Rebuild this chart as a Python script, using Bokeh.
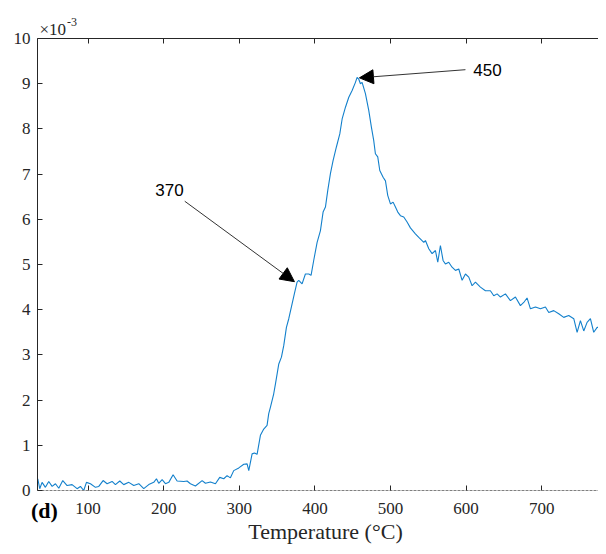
from bokeh.plotting import figure
from bokeh.models import Range1d, LinearAxis, FixedTicker, Label, Arrow, NormalHead
from bokeh.embed import file_html
from bokeh.resources import INLINE

# Temperature (°C)
temperature = [
    33.4, 36.0, 39.1, 43.5, 47.9, 52.4, 56.8, 61.2, 66.5, 72.2, 78.8, 85.4, 89.8, 94.2, 97.8,
    103.1, 109.7, 114.1, 119.8, 125.1, 131.7, 136.1, 141.9, 147.1, 153.8, 160.4, 167.0, 173.6,
    180.2, 186.8, 190.4, 193.4, 197.9, 202.3, 206.7, 212.4, 217.7, 226.5, 230.9, 235.3, 241.9,
    250.8, 255.2, 261.8, 268.4, 274.1, 279.4, 283.8, 288.2, 292.6, 299.3, 305.9, 310.3, 312.5,
    316.9, 320.0, 323.5, 327.9, 332.3, 336.7, 338.9, 341.1, 345.5, 347.8, 352.2, 355.7, 358.8,
    362.3, 365.4, 369.8, 373.3, 376.4, 378.6, 383.0, 387.4, 391.9, 394.9, 398.5, 402.9, 407.3,
    410.8, 413.9, 417.0, 420.5, 424.0, 428.4, 432.9, 436.0, 440.4, 444.8, 449.2, 453.6, 455.8,
    458.0, 460.2, 462.4, 466.8, 471.2, 474.7, 477.8, 480.0, 483.1, 485.8, 490.2, 493.3, 496.3,
    499.9, 503.4, 506.5, 509.6, 513.1, 517.5, 521.9, 526.3, 532.9, 537.4, 544.0, 546.2, 550.6,
    555.0, 559.4, 562.5, 566.0, 569.5, 572.6, 577.0, 581.4, 585.9, 590.3, 594.7, 599.1, 603.5,
    607.9, 612.3, 618.9, 625.5, 632.1, 636.6, 641.0, 645.4, 652.0, 658.6, 665.2, 671.8, 676.2,
    680.6, 685.1, 691.7, 698.3, 704.9, 709.3, 715.9, 722.5, 729.1, 735.7, 742.4, 746.8, 751.2,
    755.6, 760.0, 764.4, 768.8, 773.3, 777.7, 782.1, 785.6,
]
# Signal (x 10^-3)
signal = [
    0.26, 0.04, 0.18, 0.07, 0.20, 0.09, 0.15, 0.05, 0.22, 0.11, 0.13, 0.04, 0.09, 0.00, 0.18,
    0.15, 0.07, 0.09, 0.22, 0.15, 0.20, 0.13, 0.21, 0.13, 0.18, 0.11, 0.15, 0.04,
    0.13, 0.18, 0.26, 0.16, 0.24, 0.15, 0.18, 0.35, 0.21, 0.20, 0.21, 0.15, 0.10,
    0.22, 0.16, 0.19, 0.15, 0.29, 0.26, 0.33, 0.28, 0.44, 0.50, 0.58, 0.59, 0.44,
    0.81, 0.83, 0.80, 1.22, 1.36, 1.44, 1.70, 1.84, 2.14, 2.36, 2.80, 2.95, 3.21,
    3.61, 3.80, 4.13, 4.39, 4.61, 4.65, 4.57, 4.79, 4.79, 4.76, 5.10, 5.49, 5.75,
    6.16, 6.27, 6.64, 7.01, 7.30, 7.60, 7.89, 8.22, 8.48, 8.70, 8.85, 9.03, 9.14,
    9.10, 9.00, 9.03, 8.78, 8.41, 8.04, 7.74, 7.45, 7.38, 7.08, 6.93, 6.85, 6.53,
    6.34, 6.38, 6.27, 6.16, 6.08, 6.05, 5.94, 5.81, 5.68, 5.60, 5.49, 5.53, 5.35,
    5.24, 5.31, 5.05, 5.42, 5.09, 5.01, 5.05, 4.94, 4.87, 4.90, 4.65, 4.79, 4.72,
    4.53, 4.61, 4.50, 4.42, 4.42, 4.31, 4.35, 4.28, 4.35, 4.20, 4.28, 4.09, 4.16,
    4.26, 4.02, 4.06, 4.02, 4.06, 3.94, 3.98, 3.91, 3.83, 3.87, 3.80, 3.50, 3.76,
    3.53, 3.72, 3.80, 3.50, 3.61, 3.61, 3.46, 3.53,
]
x_ticks = [100, 200, 300, 400, 500, 600, 700]
y_ticks = [0, 1, 2, 3, 4, 5, 6, 7, 8, 9, 10]
x_min, x_max = 33.0, 775.1
y_min, y_max = 0.0, 10.0

# annotations
ann_labels = ["370", "450"]
ann_text_x = [207.7, 628.2]
ann_text_y = [6.64, 9.30]
ann_start_x = [227.8, 599.1]
ann_start_y = [6.40, 9.31]
ann_tip_x = [372.9, 458.9]
ann_tip_y = [4.62, 9.13]

SERIF = "Liberation Serif"
AX = "#262626"

# frame covers whole canvas; axes are placed at fixed data locations
p = figure(width=598, height=546, output_backend="svg", toolbar_location=None,
           x_range=Range1d(-15.9, 775.1), y_range=Range1d(-1.239, 10.841),
           min_border=0, x_axis_location=None, y_axis_location=None)
p.title.visible = False
p.outline_line_color = None
p.xgrid.visible = False
p.ygrid.visible = False
p.background_fill_color = "white"
p.border_fill_color = "white"

xb = LinearAxis(ticker=FixedTicker(ticks=x_ticks), fixed_location=y_min, bounds=(x_min, x_max))
xb.axis_line_color = "#808080"
xb.axis_line_dash = "3 1"
xb.major_tick_in = 5
xb.major_tick_out = 0
xb.minor_tick_line_color = None
xb.major_tick_line_color = AX
xb.major_label_text_font = SERIF
xb.major_label_text_font_size = "17px"
xb.major_label_text_color = AX
xb.major_label_standoff = 13
p.add_layout(xb, "below")

xt = LinearAxis(ticker=FixedTicker(ticks=x_ticks), fixed_location=y_max, bounds=(x_min, x_max))
xt.axis_line_color = AX
xt.major_tick_in = 5
xt.major_tick_out = 0
xt.minor_tick_line_color = None
xt.major_tick_line_color = AX
xt.major_label_text_color = None
p.add_layout(xt, "above")

yl = LinearAxis(ticker=FixedTicker(ticks=y_ticks), fixed_location=x_min, bounds=(y_min, y_max))
yl.axis_line_color = AX
yl.major_tick_in = 5
yl.major_tick_out = 0
yl.minor_tick_line_color = None
yl.major_tick_line_color = AX
yl.major_label_text_font = SERIF
yl.major_label_text_font_size = "17px"
yl.major_label_text_color = AX
yl.major_label_standoff = 7
p.add_layout(yl, "left")

p.line(temperature, signal, line_color="#1380CC", line_width=1.1)

for i in range(len(ann_labels)):
    p.add_layout(Arrow(x_start=ann_start_x[i], y_start=ann_start_y[i],
                       x_end=ann_tip_x[i], y_end=ann_tip_y[i],
                       line_color="#333333", line_width=1,
                       end=NormalHead(size=14, fill_color="black", line_color="black",
                                      line_width=1)))
    p.add_layout(Label(x=ann_text_x[i], y=ann_text_y[i], text=ann_labels[i],
                       text_font="Liberation Sans", text_font_size="17px",
                       text_align="center", text_baseline="middle", text_color="black"))

p.add_layout(Label(x=35.6, y=10.2, text="×10", text_font=SERIF, text_font_size="17px",
                   text_align="left", text_baseline="alphabetic", text_color=AX))
p.add_layout(Label(x=72.0, y=10.36, text="-3", text_font=SERIF, text_font_size="12px",
                   text_align="left", text_baseline="alphabetic", text_color=AX))
p.add_layout(Label(x=24.5, y=-0.44, text="(d)", text_font=SERIF, text_font_size="22px",
                   text_font_style="bold", text_align="left", text_baseline="middle",
                   text_color="black"))
p.add_layout(Label(x=414.0, y=-0.907, text="Temperature (°C)", text_font=SERIF,
                   text_font_size="22px", text_align="center", text_baseline="middle",
                   text_color=AX))

open("out.html", "w").write(file_html(p, INLINE))
